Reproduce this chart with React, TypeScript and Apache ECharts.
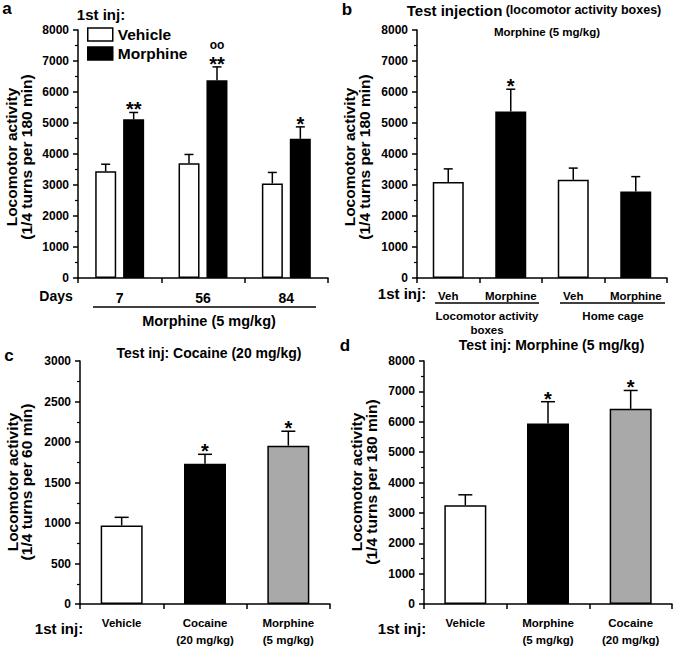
import React, { useEffect, useRef } from 'react';
import * as echarts from 'echarts';

const FONT = '"Liberation Sans", Arial, Helvetica, sans-serif';

// ---------- Panel a ----------
const aDays = ['7', '56', '84'];
const aVehicle = [3440, 3705, 3050];
const aVehicleSem = [230, 280, 355];
const aMorphine = [5120, 6380, 4490];
const aMorphineSem = [220, 430, 385];
const aMorphineStars = ['**', '**', '*'];
const aMorphineCircles = ['', 'oo', ''];

// ---------- Panel b ----------
const bFirstInj = ['Veh', 'Morphine', 'Veh', 'Morphine'];
const bValues = [3100, 5370, 3170, 2790];
const bSem = [420, 720, 375, 480];
const bStars = ['', '*', '', ''];

// ---------- Panel c ----------
const cFirstInj = ['Vehicle', 'Cocaine\n(20 mg/kg)', 'Morphine\n(5 mg/kg)'];
const cValues = [970, 1730, 1955];
const cSem = [100, 118, 178];
const cStars = ['', '*', '*'];

// ---------- Panel d ----------
const dFirstInj = ['Vehicle', 'Morphine\n(5 mg/kg)', 'Cocaine\n(20 mg/kg)'];
const dValues = [3250, 5940, 6425];
const dSem = [345, 720, 605];
const dStars = ['', '*', '*'];

// styles
const WHITE = '#ffffff';
const BLACK = '#000000';
const GRAY = '#a9a9a9';
const bFills = [WHITE, BLACK, WHITE, BLACK];
const cFills = [WHITE, BLACK, GRAY];
const dFills = [WHITE, BLACK, GRAY];

const axisLineStyle = { color: '#000', width: 1.5 };

function xAxis(gridIndex: number, data: string[], fontSize: number, margin: number) {
  return {
    type: 'category',
    gridIndex,
    data,
    axisLine: { lineStyle: axisLineStyle },
    axisTick: { show: true, interval: 0, length: 5, lineStyle: axisLineStyle },
    axisLabel: {
      interval: 0,
      color: '#000',
      fontFamily: FONT,
      fontWeight: 'bold',
      fontSize,
      lineHeight: 17,
      margin,
    },
    splitLine: { show: false },
  };
}

function yAxis(gridIndex: number, max: number, interval: number) {
  return {
    type: 'value',
    gridIndex,
    min: 0,
    max,
    interval,
    axisLine: { show: true, lineStyle: axisLineStyle },
    axisTick: { show: true, length: 5, lineStyle: axisLineStyle },
    minorTick: { show: true, splitNumber: 2, length: 3, lineStyle: { color: '#000', width: 1.2 } },
    splitLine: { show: false },
    axisLabel: {
      color: '#000',
      fontFamily: FONT,
      fontWeight: 'bold',
      fontSize: 12,
      margin: 9,
      formatter: (v: number) => String(v),
    },
  };
}

function errorSeries(
  name: string,
  gridIndex: number,
  values: number[],
  sems: number[],
  stars: string[],
  circles: string[] | null,
  offset: number,
  capHalf: number,
) {
  return {
    type: 'custom',
    name,
    xAxisIndex: gridIndex,
    yAxisIndex: gridIndex,
    z: 5,
    silent: true,
    data: values.map((v, i) => [i, v, v + sems[i]]),
    renderItem: (params: any, api: any) => {
      const i = api.value(0);
      const base = api.coord([i, api.value(1)]);
      const top = api.coord([i, api.value(2)]);
      const x = base[0] + offset;
      const ls = { stroke: '#000', lineWidth: 1.5 };
      const children: any[] = [
        { type: 'line', shape: { x1: x, y1: base[1], x2: x, y2: top[1] }, style: ls },
        { type: 'line', shape: { x1: x - capHalf, y1: top[1], x2: x + capHalf, y2: top[1] }, style: ls },
      ];
      const star = stars[params.dataIndex];
      if (star) {
        children.push({
          type: 'text',
          x,
          y: top[1] - 3,
          style: {
            text: star,
            fontSize: 20,
            fontWeight: 'bold',
            fontFamily: FONT,
            fill: '#000',
            textAlign: 'center',
            textVerticalAlign: 'middle',
          },
        });
      }
      const circ = circles ? circles[params.dataIndex] : '';
      if (circ) {
        children.push({
          type: 'text',
          x,
          y: top[1] - 22,
          style: {
            text: circ,
            fontSize: 12,
            fontWeight: 'bold',
            fontFamily: FONT,
            fill: '#000',
            textAlign: 'center',
            textVerticalAlign: 'middle',
          },
        });
      }
      return { type: 'group', children };
    },
  };
}

function txt(x: number, y: number, text: string, fontSize: number, extra: any = {}) {
  return {
    type: 'text',
    x,
    y,
    style: {
      text,
      fontSize,
      fontWeight: 'bold',
      fontFamily: FONT,
      fill: '#000',
      textAlign: 'center',
      textVerticalAlign: 'middle',
      ...extra,
    },
  };
}

function hline(x1: number, x2: number, y: number) {
  return { type: 'line', shape: { x1, y1: y, x2, y2: y }, style: { stroke: '#000', lineWidth: 1.5 } };
}

function yTitle(x: number, y: number, text: string) {
  return {
    type: 'text',
    x,
    y,
    rotation: Math.PI / 2,
    style: {
      text,
      fontSize: 15.5,
      lineHeight: 14.5,
      fontWeight: 'bold',
      fontFamily: FONT,
      fill: '#000',
      textAlign: 'center',
      textVerticalAlign: 'middle',
    },
  };
}

function buildOption() {
  return {
    animation: false,
    backgroundColor: '#fff',
    grid: [
      { left: 78, top: 30, width: 250, height: 248 },
      { left: 417, top: 30, width: 250, height: 248 },
      { left: 80, top: 361, width: 250, height: 247 },
      { left: 424, top: 361, width: 248, height: 247 },
    ],
    xAxis: [
      xAxis(0, aDays, 14, 11),
      xAxis(1, bFirstInj, 11.5, 9),
      xAxis(2, cFirstInj, 11.5, 10),
      xAxis(3, dFirstInj, 11.5, 10),
    ],
    yAxis: [yAxis(0, 8000, 1000), yAxis(1, 8000, 1000), yAxis(2, 3000, 500), yAxis(3, 8000, 1000)],
    legend: {
      left: 82,
      top: 21.5,
      orient: 'vertical',
      icon: 'rect',
      itemWidth: 25,
      itemHeight: 13,
      itemGap: 3,
      selectedMode: false,
      textStyle: { color: '#000', fontFamily: FONT, fontWeight: 'bold', fontSize: 15.5, lineHeight: 16 },
      data: [
        { name: 'Vehicle', itemStyle: { color: WHITE, borderColor: BLACK, borderWidth: 1.5 } },
        { name: 'Morphine', itemStyle: { color: BLACK, borderColor: BLACK, borderWidth: 1.5 } },
      ],
    },
    series: [
      {
        type: 'bar',
        name: 'Vehicle',
        xAxisIndex: 0,
        yAxisIndex: 0,
        data: aVehicle,
        barWidth: 21,
        barGap: '33%',
        itemStyle: { color: WHITE, borderColor: BLACK, borderWidth: 1.5 },
      },
      {
        type: 'bar',
        name: 'Morphine',
        xAxisIndex: 0,
        yAxisIndex: 0,
        data: aMorphine,
        barWidth: 21,
        barGap: '33%',
        itemStyle: { color: BLACK, borderColor: BLACK, borderWidth: 1.5 },
      },
      errorSeries('Vehicle SEM', 0, aVehicle, aVehicleSem, ['', '', ''], null, -14, 4.5),
      errorSeries('Morphine SEM', 0, aMorphine, aMorphineSem, aMorphineStars, aMorphineCircles, 14, 4.5),
      {
        type: 'bar',
        name: 'b',
        xAxisIndex: 1,
        yAxisIndex: 1,
        barWidth: 31,
        data: bValues.map((v, i) => ({ value: v, itemStyle: { color: bFills[i], borderColor: BLACK, borderWidth: 1.5 } })),
      },
      errorSeries('b SEM', 1, bValues, bSem, bStars, null, 0, 4.5),
      {
        type: 'bar',
        name: 'c',
        xAxisIndex: 2,
        yAxisIndex: 2,
        barWidth: 42,
        data: cValues.map((v, i) => ({ value: v, itemStyle: { color: cFills[i], borderColor: BLACK, borderWidth: 1.5 } })),
      },
      errorSeries('c SEM', 2, cValues, cSem, cStars, null, 0, 7),
      {
        type: 'bar',
        name: 'd',
        xAxisIndex: 3,
        yAxisIndex: 3,
        barWidth: 42,
        data: dValues.map((v, i) => ({ value: v, itemStyle: { color: dFills[i], borderColor: BLACK, borderWidth: 1.5 } })),
      },
      errorSeries('d SEM', 3, dValues, dSem, dStars, null, 0, 7),
    ],
    graphic: [
      // panel a
      txt(7, 8, 'a', 17),
      txt(101, 14, '1st inj:', 15),
      yTitle(19, 157, 'Locomotor activity\n(1/4 turns per 180 min)'),
      txt(56, 296, 'Days', 14),
      hline(93, 316, 307),
      txt(209, 321, 'Morphine (5 mg/kg)', 14.5),
      // panel b
      txt(347, 9, 'b', 17),
      {
        type: 'text',
        x: 534,
        y: 10,
        style: {
          text: '{big|Test injection} {small|(locomotor activity boxes)}',
          fontFamily: FONT,
          fontWeight: 'bold',
          fill: '#000',
          textAlign: 'center',
          textVerticalAlign: 'middle',
          rich: {
            big: { fontSize: 15, fontWeight: 'bold', fontFamily: FONT, fill: '#000' },
            small: { fontSize: 12.5, fontWeight: 'bold', fontFamily: FONT, fill: '#000' },
          },
        },
      },
      txt(547, 32, 'Morphine (5 mg/kg)', 11.5),
      yTitle(357, 157, 'Locomotor activity\n(1/4 turns per 180 min)'),
      txt(402, 293, '1st inj:', 15),
      hline(435, 539, 303),
      hline(560, 665, 303),
      txt(487, 323, 'Locomotor activity\nboxes', 11.5, { lineHeight: 14 }),
      txt(613, 316, 'Home cage', 11.5),
      // panel c
      txt(9, 355, 'c', 17),
      txt(209, 353, 'Test inj: Cocaine (20 mg/kg)', 14),
      yTitle(19.5, 482, 'Locomotor activity\n(1/4 turns per 60 min)'),
      txt(59, 628, '1st inj:', 15),
      // panel d
      txt(345, 345, 'd', 17),
      txt(551.5, 345, 'Test inj: Morphine (5 mg/kg)', 14),
      yTitle(364, 482, 'Locomotor activity\n(1/4 turns per 180 min)'),
      txt(402, 628, '1st inj:', 15),
    ],
  };
}

export default function App() {
  const ref = useRef<HTMLDivElement>(null);
  useEffect(() => {
    const chart = echarts.init(ref.current as HTMLDivElement, null, { renderer: 'svg' });
    chart.setOption(buildOption() as any);
    return () => chart.dispose();
  }, []);
  return (
    <div
      ref={ref}
      style={{ position: 'absolute', left: 0, top: 0, width: 675, height: 648, background: '#fff' }}
    />
  );
}
